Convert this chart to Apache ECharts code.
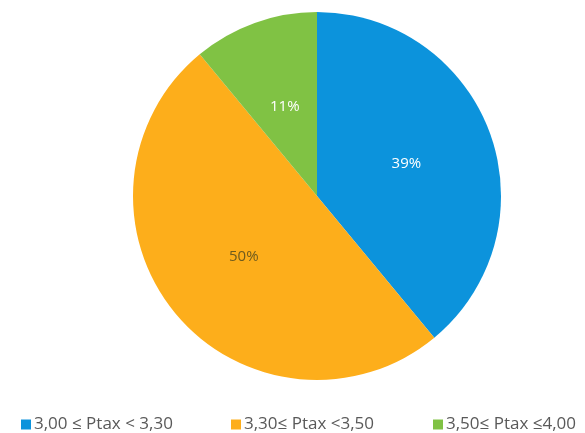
<!DOCTYPE html>
<html>
<head>
<meta charset="utf-8">
<script src="https://cdn.jsdelivr.net/npm/echarts@6/dist/echarts.min.js"></script>
<style>html,body{margin:0;padding:0;background:#fff;}#c{width:585px;height:433px;}</style>
</head>
<body>
<div id="c"></div>
<script>
var categories = ['3,00 ≤ Ptax < 3,30', '3,30≤ Ptax <3,50', '3,50≤ Ptax ≤4,00'];
var values = [39, 50, 11];
var colors = ['#0c93dc', '#fdae1b', '#80c244'];
var labelColors = ['#ffffff', '#6e5b1e', '#ffffff'];
var legendLefts = [16, 226, 428];

var chart = echarts.init(document.getElementById('c'));
chart.setOption({
  animation: false,
  legend: categories.map(function (n, i) {
    return {
      top: 411,
      left: legendLefts[i],
      itemWidth: 10,
      itemHeight: 10,
      itemGap: 0,
      icon: 'rect',
      textStyle: { fontFamily: 'Open Sans', fontSize: 17, color: '#595959', padding: [0, 0, 0, -2] },
      data: [n]
    };
  }),
  series: [{
    type: 'pie',
    center: [317, 196],
    radius: 184,
    startAngle: 90,
    clockwise: true,
    label: { position: 'inside', formatter: '{c}%', fontFamily: 'Open Sans', fontSize: 15 },
    labelLine: { show: false },
    itemStyle: { borderWidth: 0 },
    emphasis: { disabled: true },
    data: categories.map(function (n, i) {
      return { name: n, value: values[i], itemStyle: { color: colors[i] }, label: { color: labelColors[i] } };
    })
  }]
});
</script>
</body>
</html>
